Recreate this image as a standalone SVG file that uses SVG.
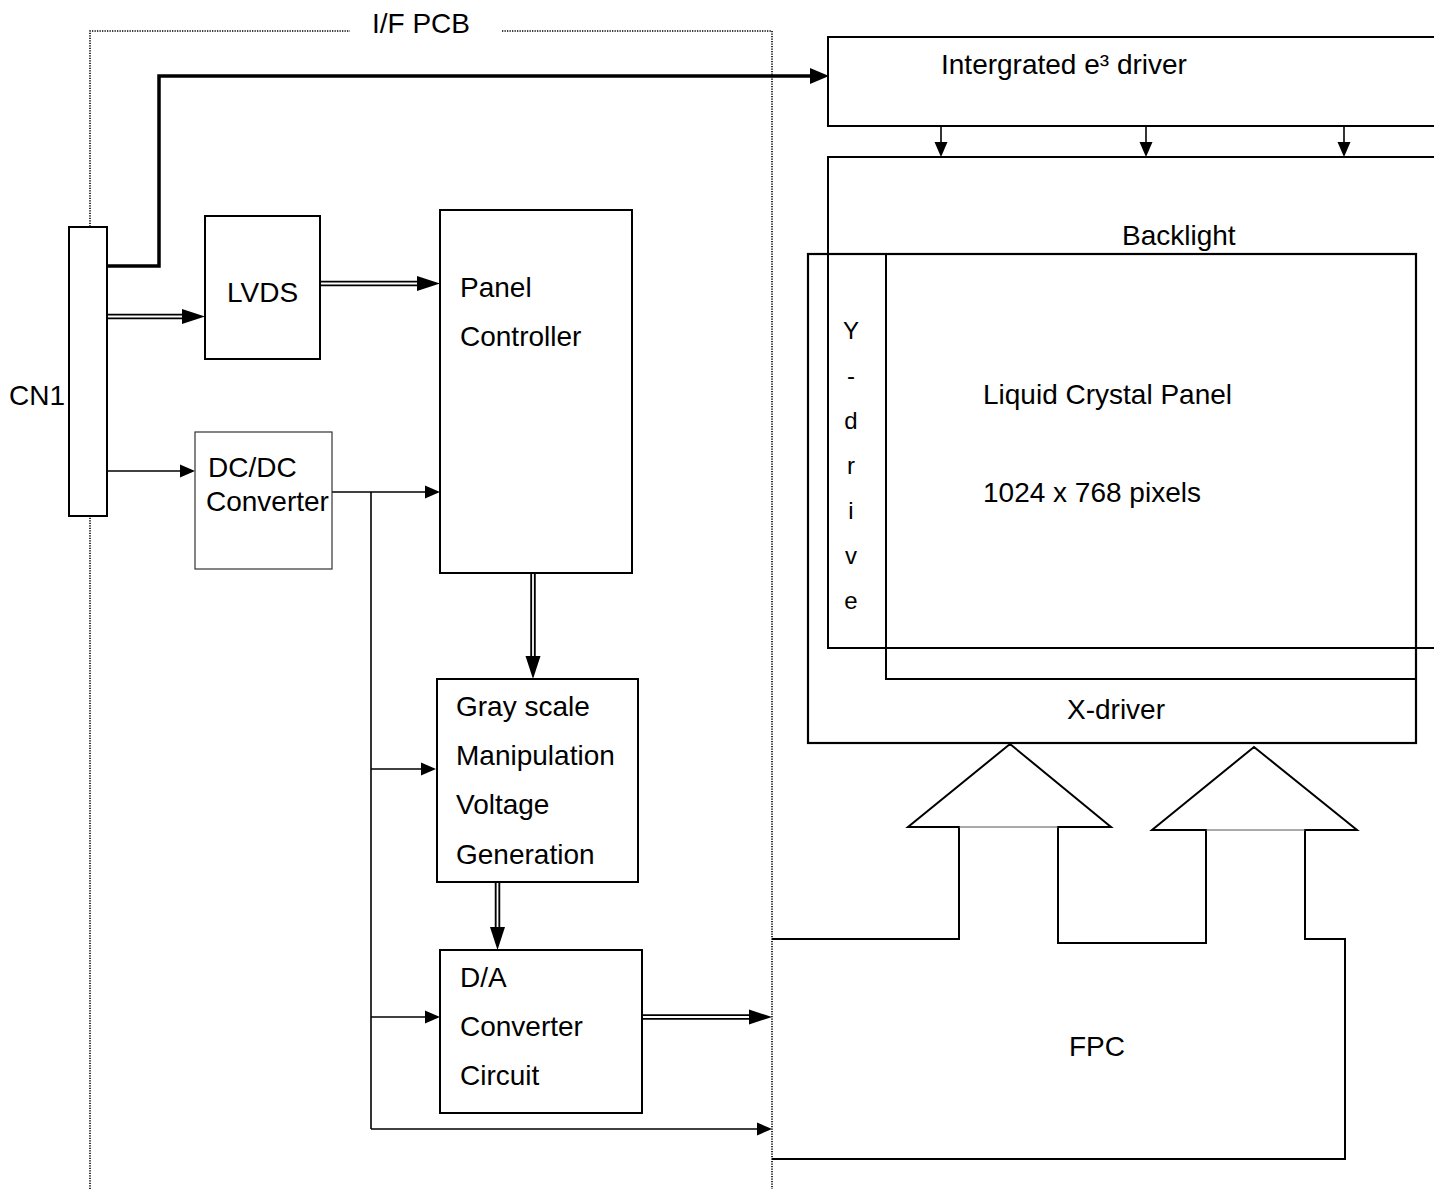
<svg xmlns="http://www.w3.org/2000/svg" width="1434" height="1189" viewBox="0 0 1434 1189">
<style>
.t{font-family:"Liberation Sans",Arial,sans-serif;font-size:28px;fill:#000}
.ty{font-family:"Liberation Sans",Arial,sans-serif;font-size:24px;fill:#000;text-anchor:middle}
.box{fill:#fff;stroke:#000;stroke-width:2}
.ln{fill:none;stroke:#000;stroke-width:2}
.thin{fill:none;stroke:#000;stroke-width:1.6}
.dot{fill:none;stroke:#000;stroke-width:1.6;stroke-dasharray:1.3 1.2}
.dbl{fill:none;stroke:#000;stroke-width:5.5}
.dblw{fill:none;stroke:#fff;stroke-width:1.8}
</style>
<defs>
<marker id="big" markerUnits="userSpaceOnUse" markerWidth="23" markerHeight="15" refX="0" refY="7.5" orient="auto" overflow="visible">
<path d="M0,0 L23,7.5 L0,15 Z" fill="#000"/>
</marker>
<marker id="sm" markerUnits="userSpaceOnUse" markerWidth="15" markerHeight="13" refX="0" refY="6.5" orient="auto" overflow="visible">
<path d="M0,0 L15,6.5 L0,13 Z" fill="#000"/>
</marker>
<marker id="thk" markerUnits="userSpaceOnUse" markerWidth="19" markerHeight="16" refX="0" refY="8" orient="auto" overflow="visible">
<path d="M0,0 L19,8 L0,16 Z" fill="#000"/>
</marker>
</defs>

<g id="if-pcb">
<path class="dot" d="M90,1189 L90,31 L350,31"/>
<path class="dot" d="M502,31 L772,31 L772,1189"/>
<text class="t" x="372" y="33">I/F PCB</text>
</g>

<g id="e3-driver">
<path class="ln" d="M1440,37 L828,37 L828,126 L1440,126"/>
<text class="t" x="941" y="74">Intergrated e³ driver</text>
</g>

<g id="backlight">
<path class="ln" d="M1440,157 L828,157 L828,648 L1440,648"/>
<text class="t" x="1122" y="245">Backlight</text>
</g>

<g id="lc-panel">
<rect x="808" y="254" width="608" height="489" fill="none" stroke="#000" stroke-width="2.2"/>
<path class="ln" d="M886,254 L886,679 L1416,679"/>
<text class="t" x="983" y="404">Liquid Crystal Panel</text>
<text class="t" x="983" y="502">1024 x 768 pixels</text>
</g>

<g id="y-driver">
<text class="ty" x="851" y="339">Y</text>
<text class="ty" x="851" y="384">-</text>
<text class="ty" x="851" y="429">d</text>
<text class="ty" x="851" y="474">r</text>
<text class="ty" x="851" y="519">i</text>
<text class="ty" x="851" y="564">v</text>
<text class="ty" x="851" y="609">e</text>
</g>

<g id="x-driver">
<text class="t" x="1067" y="719">X-driver</text>
</g>

<g id="fpc">
<path class="ln" d="M772,939 L959,939 L959,827 L908,827 L1010,744 L1111,827 L1058,827 L1058,943 L1206,943 L1206,830 L1152,830 L1254,747 L1357,830 L1305,830 L1305,939 L1345,939 L1345,1159 L772,1159"/>
<path d="M959,827 L1058,827 M1206,830 L1305,830" fill="none" stroke="#555" stroke-width="1"/>
<text class="t" x="1069" y="1056">FPC</text>
</g>

<g id="connectors">
<path d="M107,266 L159,266 L159,76 L810,76" fill="none" stroke="#000" stroke-width="3.5" marker-end="url(#thk)"/>
<path class="dbl" d="M107,316.5 L182,316.5" marker-end="url(#big)"/>
<path class="dblw" d="M107,316.5 L182,316.5"/>
<path class="dbl" d="M320,283.5 L417,283.5" marker-end="url(#big)"/>
<path class="dblw" d="M320,283.5 L417,283.5"/>
<path class="thin" d="M107,471 L180,471" marker-end="url(#sm)"/>
<path class="thin" d="M332,492 L425,492" marker-end="url(#sm)"/>
<path class="thin" d="M371,492 L371,1129"/>
<path class="thin" d="M371,769 L421,769" marker-end="url(#sm)"/>
<path class="thin" d="M371,1017 L425,1017" marker-end="url(#sm)"/>
<path class="thin" d="M371,1129 L757,1129" marker-end="url(#sm)"/>
<path class="dbl" d="M533,573 L533,656" marker-end="url(#big)"/>
<path class="dblw" d="M533,573 L533,656"/>
<path class="dbl" d="M497.5,882 L497.5,927" marker-end="url(#big)"/>
<path class="dblw" d="M497.5,882 L497.5,927"/>
<path class="dbl" d="M642,1017 L749,1017" marker-end="url(#big)"/>
<path class="dblw" d="M642,1017 L749,1017"/>
<path class="thin" d="M941,126 L941,142" marker-end="url(#sm)"/>
<path class="thin" d="M1146,126 L1146,142" marker-end="url(#sm)"/>
<path class="thin" d="M1344,126 L1344,142" marker-end="url(#sm)"/>
</g>

<g id="cn1">
<rect class="box" x="69" y="227" width="38" height="289"/>
<text class="t" x="9" y="405">CN1</text>
</g>

<g id="lvds">
<rect class="box" x="205" y="216" width="115" height="143"/>
<text class="t" x="227" y="302">LVDS</text>
</g>

<g id="panel-controller">
<rect class="box" x="440" y="210" width="192" height="363"/>
<text class="t" x="460" y="297">Panel</text>
<text class="t" x="460" y="346">Controller</text>
</g>

<g id="dcdc">
<rect x="195" y="432" width="137" height="137" fill="none" stroke="#333" stroke-width="1.2"/>
<text class="t" x="208" y="477">DC/DC</text>
<text class="t" x="206" y="511">Converter</text>
</g>

<g id="gray-scale">
<rect class="box" x="437" y="679" width="201" height="203"/>
<text class="t" x="456" y="716">Gray scale</text>
<text class="t" x="456" y="765">Manipulation</text>
<text class="t" x="456" y="814">Voltage</text>
<text class="t" x="456" y="864">Generation</text>
</g>

<g id="da-converter">
<rect class="box" x="440" y="950" width="202" height="163"/>
<text class="t" x="460" y="987">D/A</text>
<text class="t" x="460" y="1036">Converter</text>
<text class="t" x="460" y="1085">Circuit</text>
</g>
</svg>
